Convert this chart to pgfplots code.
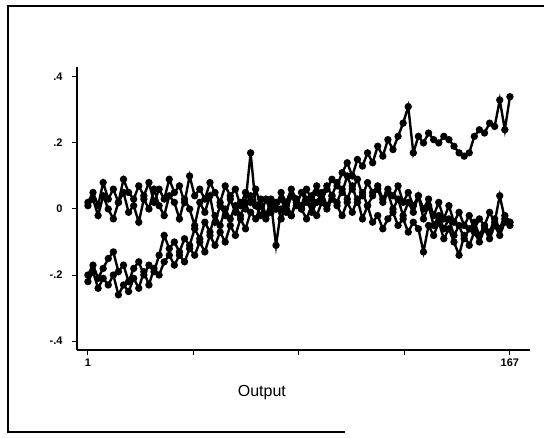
\documentclass[border=0pt]{standalone}
\usepackage{fontspec}
\setmainfont{Liberation Sans}
\usepackage{pgfplots}
\pgfplotsset{compat=1.18}

\pgfplotstableread{
x     y
1     0.01
3     0.03
5    -0.02
7     0.04
9     0.00
11   -0.03
13    0.02
15    0.05
17   -0.01
19    0.01
21   -0.04
23    0.03
25    0.00
27    0.06
29    0.01
31   -0.02
33    0.04
35    0.02
37   -0.03
39    0.03
41    0.00
43   -0.05
45    0.02
47   -0.01
49    0.04
51   -0.04
53    0.01
55   -0.02
57    0.03
59   -0.01
61    0.02
63    0.00
65    0.04
67    0.01
69    0.03
71   -0.02
73    0.02
75    0.00
77    0.03
79   -0.01
81    0.04
83    0.01
85    0.05
87    0.02
89    0.04
91    0.07
93    0.03
95    0.06
97    0.09
99    0.07
101   0.11
103   0.14
105   0.10
107   0.15
109   0.13
111   0.17
113   0.14
115   0.19
117   0.16
119   0.21
121   0.18
123   0.22
125   0.26
127   0.31
129   0.17
131   0.22
133   0.20
135   0.23
137   0.21
139   0.20
141   0.22
143   0.21
145   0.19
147   0.17
149   0.16
151   0.17
153   0.22
155   0.24
157   0.23
159   0.26
161   0.25
163   0.33
165   0.24
167   0.34
}\seriesA

\pgfplotstableread{
x     y
1     0.02
3     0.05
5     0.01
7     0.08
9     0.03
11    0.06
13    0.02
15    0.09
17    0.05
19    0.03
21    0.07
23    0.04
25    0.08
27    0.02
29    0.06
31    0.03
33    0.09
35    0.05
37    0.07
39    0.02
41    0.10
43    0.04
45    0.06
47    0.03
49    0.08
51    0.05
53    0.02
55    0.07
57    0.04
59    0.06
61    0.01
63    0.05
65    0.02
67    0.06
69    0.01
71   -0.03
73    0.03
75    0.00
77    0.05
79    0.02
81    0.06
83    0.03
85    0.01
87    0.06
89    0.03
91    0.05
93    0.02
95    0.07
97    0.04
99    0.08
101   0.05
103   0.10
105   0.06
107   0.09
109   0.04
111   0.08
113   0.05
115   0.07
117   0.03
119   0.06
121   0.04
123   0.07
125   0.02
127   0.05
129   0.01
131   0.04
133   0.00
135   0.03
137  -0.02
139   0.02
141  -0.03
143   0.01
145  -0.04
147  -0.01
149  -0.05
151  -0.02
153  -0.06
155  -0.03
157  -0.05
159  -0.01
161  -0.04
163   0.04
165  -0.03
167  -0.04
}\seriesD

\pgfplotstableread{
x     y
1    -0.20
3    -0.17
5    -0.21
7    -0.18
9    -0.15
11   -0.13
13   -0.19
15   -0.17
17   -0.22
19   -0.18
21   -0.16
23   -0.20
25   -0.17
27   -0.19
29   -0.14
31   -0.08
33   -0.12
35   -0.10
37   -0.13
39   -0.09
41   -0.11
43   -0.06
45   -0.09
47   -0.04
49   -0.07
51   -0.02
53   -0.05
55    0.00
57   -0.03
59    0.01
61   -0.02
63    0.02
65    0.17
67    0.01
69   -0.02
71    0.03
73   -0.01
75    0.02
77   -0.03
79    0.01
81   -0.02
83    0.02
85    0.00
87    0.03
89   -0.01
91    0.02
93    0.05
95    0.01
97    0.04
99    0.02
101   0.06
103   0.03
105   0.07
107   0.02
109   0.05
111   0.01
113   0.04
115   0.06
117   0.02
119   0.05
121   0.00
123   0.03
125  -0.02
127   0.02
129  -0.01
131   0.04
133  -0.03
135   0.01
137  -0.05
139  -0.02
141  -0.06
143  -0.03
145  -0.08
147  -0.05
149  -0.09
151  -0.06
153  -0.04
155  -0.08
157  -0.05
159  -0.07
161  -0.03
163  -0.06
165  -0.02
167  -0.04
}\seriesB

\pgfplotstableread{
x     y
1    -0.22
3    -0.19
5    -0.24
7    -0.21
9    -0.23
11   -0.20
13   -0.26
15   -0.23
17   -0.25
19   -0.21
21   -0.24
23   -0.19
25   -0.23
27   -0.18
29   -0.20
31   -0.16
33   -0.14
35   -0.17
37   -0.14
39   -0.16
41   -0.12
43   -0.14
45   -0.10
47   -0.13
49   -0.08
51   -0.11
53   -0.07
55   -0.10
57   -0.05
59   -0.08
61   -0.03
63   -0.06
65   -0.01
67   -0.03
69    0.01
71   -0.02
73    0.02
75   -0.11
77    0.00
79    0.02
81   -0.02
83    0.03
85    0.00
87   -0.03
89    0.01
91   -0.02
93    0.02
95    0.00
97    0.03
99    0.01
101  -0.02
103   0.02
105  -0.01
107   0.03
109  -0.03
111   0.01
113  -0.04
115  -0.02
117  -0.06
119  -0.03
121  -0.01
123  -0.05
125  -0.03
127  -0.07
129  -0.04
131  -0.06
133  -0.13
135  -0.05
137  -0.08
139  -0.04
141  -0.09
143  -0.06
145  -0.10
147  -0.14
149  -0.08
151  -0.11
153  -0.07
155  -0.10
157  -0.06
159  -0.09
161  -0.05
163  -0.08
165  -0.04
167  -0.05
}\seriesC

\begin{document}
\begin{tikzpicture}
\useasboundingbox (0pt,0pt) rectangle (544pt,438pt);
% scanned frame: top, left and part of the bottom edge
\draw[line width=2pt] (544pt,432pt) -- (8pt,432pt) -- (8pt,6pt) -- (345pt,6pt);
\begin{axis}[
    at={(77pt,88pt)}, anchor=south west,
    scale only axis,
    width=453pt, height=283pt,
    xmin=-3.3, xmax=174.9,
    ymin=-0.427, ymax=0.430,
    axis lines*=left,
    axis line style={-, line width=1.2pt},
    tick align=outside,
    major tick length=5pt,
    tick style={line width=1pt, black},
    xtick={1,42.5,84,125.5,167},
    xticklabels={1,,,,167},
    ytick={-0.4,-0.2,0,0.2,0.4},
    yticklabels={-.4,-.2,0,.2,.4},
    /pgf/number format/assume math mode=true,
    ticklabel style={font=\bfseries\fontsize{11}{12}\selectfont},
    yticklabel style={xshift=-6pt},
    xlabel={Output},
    xlabel style={font=\fontsize{16}{18}\selectfont, at={(axis description cs:0.408,-0.152)}, anchor=center},
]
\addplot[black, line width=2.4pt, mark=*, mark size=2.4pt] table {\seriesC};
\addplot[black, line width=2.4pt, mark=*, mark size=2.4pt] table {\seriesB};
\addplot[black, line width=2.4pt, mark=*, mark size=2.4pt] table {\seriesD};
\addplot[black, line width=2.4pt, mark=*, mark size=2.4pt] table {\seriesA};
\end{axis}
\end{tikzpicture}
\end{document}
